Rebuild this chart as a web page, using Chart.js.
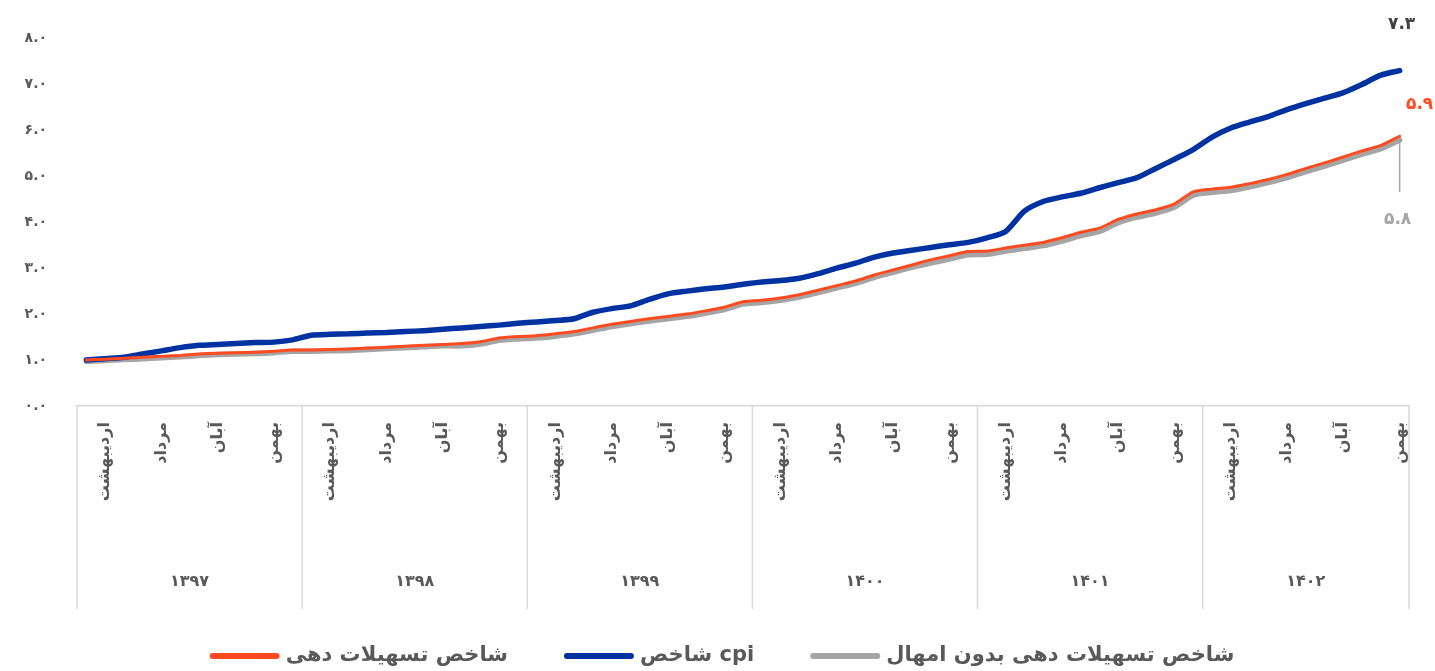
<!DOCTYPE html>
<html>
<head>
<meta charset="utf-8">
<script src="https://cdn.jsdelivr.net/npm/chart.js@4"></script>
<style>
  body { margin: 0; background: #fff; }
  #wrap { width: 1435px; height: 671px; position: relative; }
</style>
</head>
<body>
<div id="wrap"><canvas id="myChart"></canvas></div>
<script>
const years = ['۱۳۹۷', '۱۳۹۸', '۱۳۹۹', '۱۴۰۰', '۱۴۰۱', '۱۴۰۲'];
const months = ['فروردین', 'اردیبهشت', 'خرداد', 'تیر', 'مرداد', 'شهریور', 'مهر', 'آبان', 'آذر', 'دی', 'بهمن', 'اسفند'];
const monthCountLastYear = 11;

// شاخص تسهیلات دهی
const loanIndex = [
  1.00, 1.02, 1.04, 1.06, 1.08, 1.10, 1.13, 1.15, 1.16, 1.17, 1.19, 1.22,
  1.22, 1.23, 1.24, 1.26, 1.28, 1.30, 1.32, 1.34, 1.36, 1.40, 1.48, 1.51,
  1.53, 1.57, 1.62, 1.70, 1.78, 1.84, 1.90, 1.95, 2.00, 2.07, 2.15, 2.27,
  2.30, 2.35, 2.42, 2.52, 2.62, 2.72, 2.85, 2.96, 3.07, 3.18, 3.27, 3.36,
  3.37, 3.44, 3.50, 3.56, 3.66, 3.78, 3.87, 4.06, 4.18, 4.27, 4.40, 4.66,
  4.72, 4.76, 4.84, 4.93, 5.04, 5.17, 5.29, 5.42, 5.55, 5.67, 5.87
];
// شاخص cpi
const cpiIndex = [
  1.00, 1.03, 1.06, 1.13, 1.20, 1.27, 1.32, 1.34, 1.36, 1.38, 1.39, 1.44,
  1.54, 1.56, 1.57, 1.59, 1.60, 1.62, 1.64, 1.67, 1.70, 1.73, 1.76, 1.80,
  1.83, 1.86, 1.90, 2.04, 2.12, 2.18, 2.32, 2.44, 2.50, 2.55, 2.59, 2.65,
  2.70, 2.73, 2.78, 2.88, 3.00, 3.11, 3.24, 3.33, 3.39, 3.45, 3.51, 3.56,
  3.66, 3.80, 4.24, 4.45, 4.55, 4.63, 4.75, 4.86, 4.97, 5.17, 5.37, 5.58,
  5.85, 6.05, 6.18, 6.30, 6.45, 6.58, 6.70, 6.82, 7.00, 7.20, 7.30
];
// شاخص تسهیلات دهی بدون امهال
const loanNoRenewIndex = [
  0.97, 0.99, 1.01, 1.03, 1.05, 1.07, 1.10, 1.12, 1.13, 1.14, 1.16, 1.19,
  1.19, 1.20, 1.21, 1.23, 1.25, 1.27, 1.29, 1.31, 1.31, 1.35, 1.43, 1.46,
  1.48, 1.52, 1.57, 1.65, 1.73, 1.79, 1.85, 1.90, 1.95, 2.02, 2.10, 2.22,
  2.25, 2.30, 2.37, 2.47, 2.57, 2.67, 2.80, 2.91, 3.02, 3.11, 3.20, 3.29,
  3.30, 3.37, 3.43, 3.49, 3.59, 3.71, 3.80, 3.99, 4.11, 4.20, 4.33, 4.59,
  4.65, 4.69, 4.77, 4.86, 4.97, 5.10, 5.22, 5.35, 5.48, 5.60, 5.79
];
const endLabels = ['۵.۹', '۷.۳', '۵.۸'];

const FONT = "'DejaVu Sans', sans-serif";
const fa = s => String(s).replace(/\d/g, d => '۰۱۲۳۴۵۶۷۸۹'[d]);

const labels = [];
years.forEach((y, yi) => {
  const n = yi === years.length - 1 ? monthCountLastYear : 12;
  for (let m = 0; m < n; m++) labels.push([months[m], y]);
});

// year groups under the month labels
const yearGroups = {
  id: 'yearGroups',
  afterDraw(chart) {
    const ctx = chart.ctx;
    const xs = chart.scales.x;
    const band = xs.width / labels.length;
    ctx.save();
    ctx.strokeStyle = '#d9d9d9';
    ctx.lineWidth = 1.5;
    ctx.fillStyle = '#595959';
    ctx.font = 'bold 16px ' + FONT;
    ctx.textAlign = 'center';
    ctx.textBaseline = 'middle';
    let start = 0;
    years.forEach((y, yi) => {
      const n = yi === years.length - 1 ? monthCountLastYear : 12;
      const left = xs.getPixelForValue(start) - band / 2;
      const right = xs.getPixelForValue(start + n - 1) + band / 2;
      ctx.beginPath();
      ctx.moveTo(left, xs.top);
      ctx.lineTo(left, xs.top + 203);
      if (yi === years.length - 1) {
        ctx.moveTo(right, xs.top);
        ctx.lineTo(right, xs.top + 203);
      }
      ctx.stroke();
      ctx.fillText(y, (left + right) / 2, xs.top + 176);
      start += n;
    });
    ctx.restore();
  }
};

// values at the end of each line
const endValues = {
  id: 'endValues',
  afterDatasetsDraw(chart) {
    const ctx = chart.ctx;
    ctx.save();
    ctx.font = 'bold 17px ' + FONT;
    ctx.textAlign = 'center';
    ctx.textBaseline = 'middle';
    const p0 = chart.getDatasetMeta(0).data.at(-1);
    const p1 = chart.getDatasetMeta(1).data.at(-1);
    const p2 = chart.getDatasetMeta(2).data.at(-1);
    ctx.fillStyle = '#ff4b1f';
    ctx.fillText(endLabels[0], p0.x + 20, p0.y - 32);
    ctx.fillStyle = '#404040';
    ctx.fillText(endLabels[1], p1.x + 2, p1.y - 46);
    ctx.strokeStyle = '#a5a5a5';
    ctx.lineWidth = 1.5;
    ctx.beginPath();
    ctx.moveTo(p2.x, p2.y);
    ctx.lineTo(p2.x, p2.y + 52);
    ctx.stroke();
    ctx.fillStyle = '#a5a5a5';
    ctx.fillText(endLabels[2], p2.x - 2, p2.y + 80);
    ctx.restore();
  }
};

// legend row at the bottom (line sample, then text)
const bottomLegend = {
  id: 'bottomLegend',
  afterDraw(chart) {
    const ctx = chart.ctx;
    const sets = chart.data.datasets;
    const boxW = 70, gapText = 6, gapItem = 56;
    ctx.save();
    ctx.font = 'bold 21px ' + FONT;
    const widths = sets.map(d => boxW + gapText + ctx.measureText(d.label).width);
    const total = widths.reduce((a, b) => a + b, 0) + gapItem * (sets.length - 1);
    let x = 722 - total / 2;
    const y = 656;
    ctx.textBaseline = 'middle';
    ctx.textAlign = 'left';
    sets.forEach((d, i) => {
      ctx.strokeStyle = d.borderColor;
      ctx.lineWidth = 6;
      ctx.lineCap = 'round';
      ctx.beginPath();
      ctx.moveTo(x + 3, y);
      ctx.lineTo(x + boxW - 3, y);
      ctx.stroke();
      ctx.fillStyle = '#595959';
      ctx.fillText(d.label, x + boxW + gapText, y);
      x += widths[i] + gapItem;
    });
    ctx.restore();
  }
};

new Chart(document.getElementById('myChart').getContext('2d'), {
  type: 'line',
  data: {
    labels: labels,
    datasets: [
      {
        label: 'شاخص تسهیلات دهی',
        data: loanIndex,
        borderColor: '#ff4b1f',
        backgroundColor: '#ff4b1f',
        borderWidth: 3
      },
      {
        label: 'شاخص cpi',
        data: cpiIndex,
        borderColor: '#0033a1',
        backgroundColor: '#0033a1',
        borderWidth: 5.5
      },
      {
        label: 'شاخص تسهیلات دهی بدون امهال',
        data: loanNoRenewIndex,
        borderColor: '#a5a5a5',
        backgroundColor: '#a5a5a5',
        borderWidth: 5.5
      }
    ]
  },
  options: {
    responsive: true,
    maintainAspectRatio: false,
    animation: false,
    layout: { padding: { top: 34, right: 25, left: 0, bottom: 60 } },
    elements: {
      point: { radius: 0 },
      line: { tension: 0.25, borderCapStyle: 'round', borderJoinStyle: 'round' }
    },
    scales: {
      x: {
        offset: true,
        grid: { display: false, drawTicks: false },
        border: { color: '#d9d9d9', width: 1.5 },
        afterFit: s => { s.height = 205; },
        ticks: {
          autoSkip: false,
          minRotation: 90,
          maxRotation: 90,
          padding: 16,
          color: '#595959',
          font: { family: FONT, size: 16, weight: 'bold' },
          callback: (v, i) => (i % 3 === 1 ? labels[i][0] : '')
        }
      },
      y: {
        min: 0,
        max: 8,
        grid: { display: false, drawTicks: false },
        border: { display: false },
        afterFit: s => { s.width = 77; },
        ticks: {
          stepSize: 1,
          padding: 30,
          color: '#595959',
          font: { family: FONT, size: 14, weight: 'bold' },
          callback: v => fa(v.toFixed(1))
        }
      }
    },
    plugins: {
      tooltip: { enabled: false },
      legend: { display: false }
    }
  },
  plugins: [yearGroups, endValues, bottomLegend]
});
</script>
</body>
</html>
